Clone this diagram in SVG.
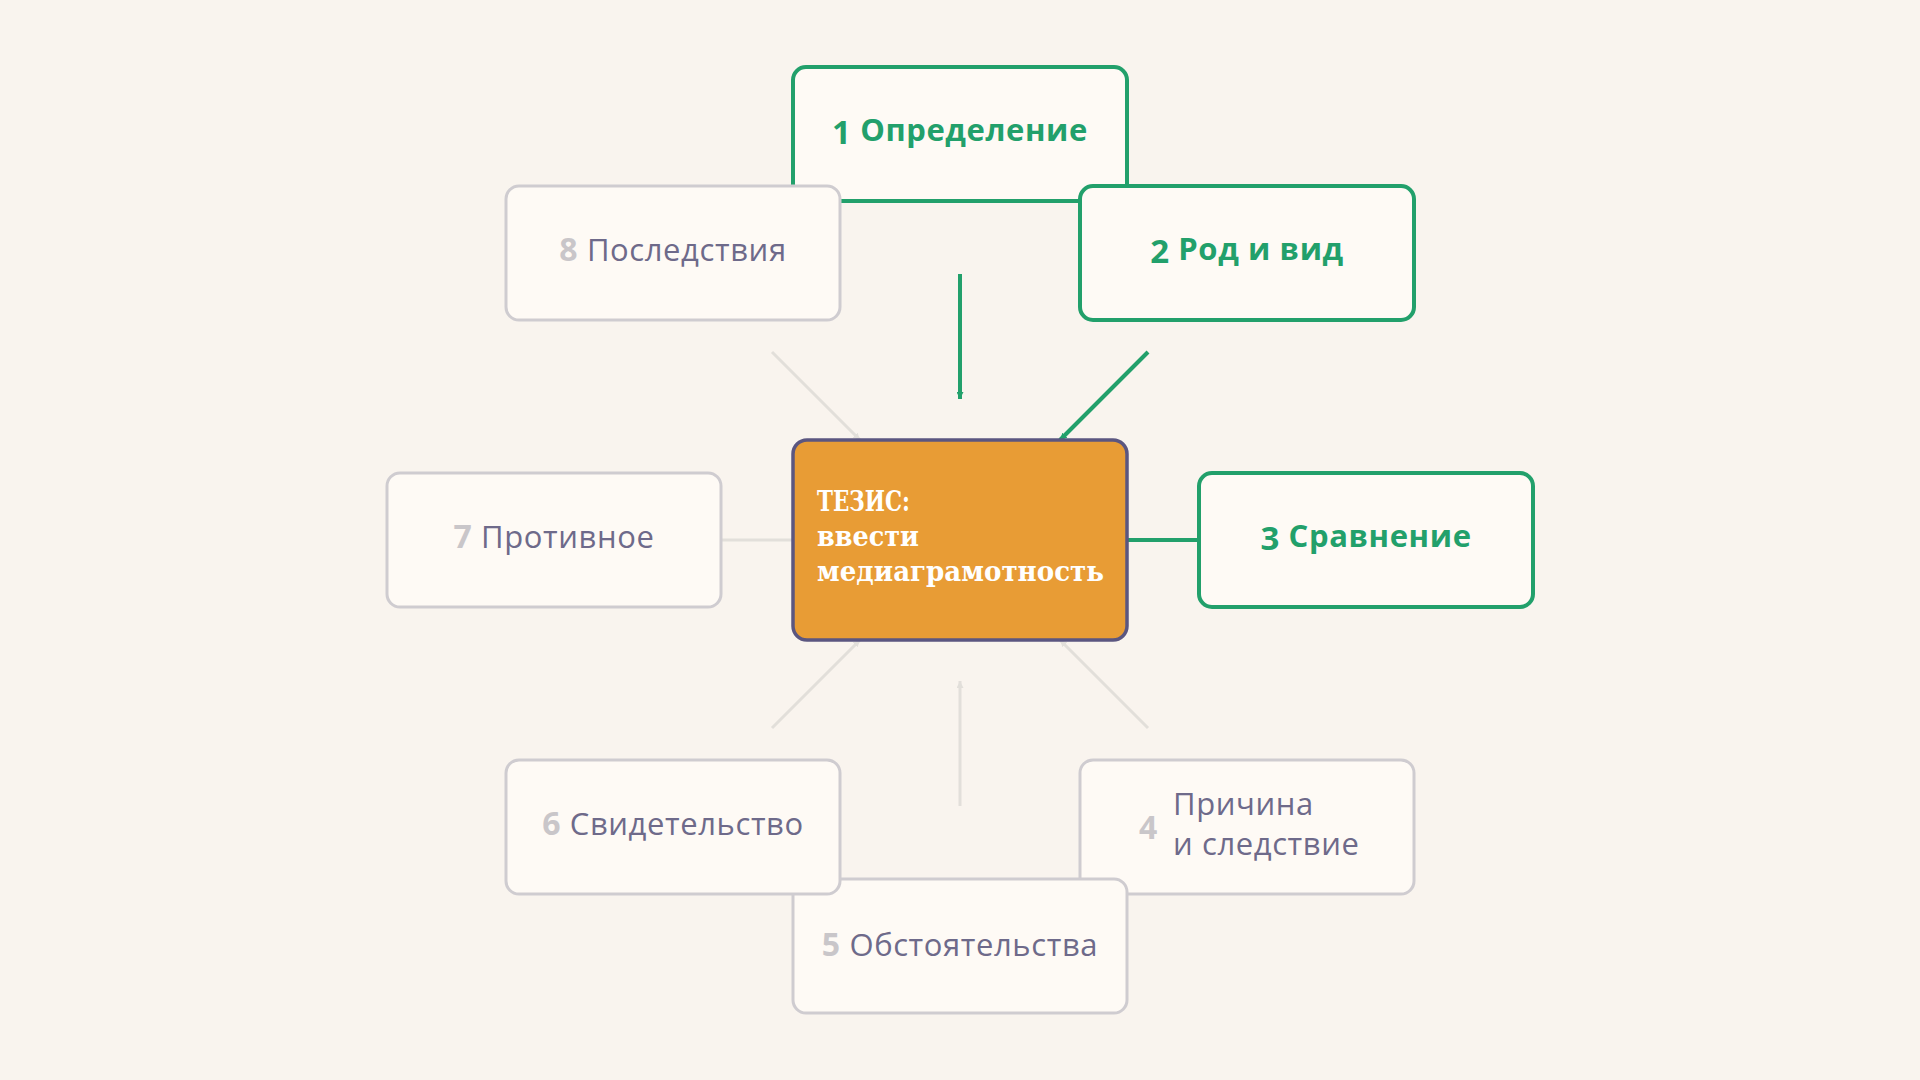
<svg xmlns="http://www.w3.org/2000/svg" width="1920" height="1080" viewBox="0 0 1920 1080">
<defs>
<marker id="arrG" viewBox="0 0 10 10" refX="10" refY="5" markerWidth="7" markerHeight="7" markerUnits="userSpaceOnUse" orient="auto"><path d="M0,0 L10,5 L0,10 z" fill="#22a06b"/></marker>
<marker id="arrL" viewBox="0 0 10 10" refX="10" refY="5" markerWidth="7" markerHeight="7" markerUnits="userSpaceOnUse" orient="auto"><path d="M0,0 L10,5 L0,10 z" fill="#e2dfda"/></marker>
<style>
.bg{fill:#f9f4ee}
.box{fill:#fefaf5;stroke-width:3}
.on{stroke:#22a06b;stroke-width:4}
.off{stroke:#cfccd0}
.center{fill:#e89c35;stroke:#5b5680;stroke-width:3.5}
.lbl{font-family:"Open Sans","Noto Sans","DejaVu Sans",sans-serif;font-size:31px;letter-spacing:0.6px}
.gl{fill:#22a06b;font-weight:700}
.gn{fill:#22a06b;font-weight:700;font-size:33px}
.pl{fill:#6e6a8a;font-weight:400}
.pn{fill:#c9c6c9;font-weight:700;font-size:32px}
.th{font-family:"DejaVu Serif","Liberation Serif",serif;font-weight:700;font-size:27px;fill:#ffffff}
.cg{stroke:#22a06b;stroke-width:4;fill:none}
.cl{stroke:#e2dfda;stroke-width:3;fill:none}
</style>
</defs>
<rect class="bg" x="0" y="0" width="1920" height="1080"/>
<g id="connectors">
<line class="cg" x1="960" y1="274" x2="960" y2="399" marker-end="url(#arrG)"/>
<line class="cg" x1="1148" y1="352" x2="1060" y2="440" marker-end="url(#arrG)"/>
<line class="cg" x1="1226" y1="540" x2="1102" y2="540" marker-end="url(#arrG)"/>
<line class="cl" x1="1148" y1="728" x2="1060" y2="640" marker-end="url(#arrL)"/>
<line class="cl" x1="960" y1="806" x2="960" y2="681" marker-end="url(#arrL)"/>
<line class="cl" x1="772" y1="728" x2="860" y2="640" marker-end="url(#arrL)"/>
<line class="cl" x1="694" y1="540" x2="818" y2="540" marker-end="url(#arrL)"/>
<line class="cl" x1="772" y1="352" x2="860" y2="440" marker-end="url(#arrL)"/>
</g>
<g id="thesis">
<rect class="center" x="793" y="440" width="334" height="200" rx="14"/>
<text class="th" x="817" y="511" textLength="93" lengthAdjust="spacingAndGlyphs">ТЕЗИС:</text>
<text class="th" x="817" y="546" textLength="102" lengthAdjust="spacingAndGlyphs">ввести</text>
<text class="th" x="817" y="581" textLength="287" lengthAdjust="spacingAndGlyphs">медиаграмотность</text>
</g>
<g id="node1">
<rect class="box on" x="793" y="67" width="334" height="134" rx="13"/>
<text class="lbl" x="960" y="141" text-anchor="middle"><tspan class="gn" dy="3">1</tspan><tspan class="gl" dy="-3"> Определение</tspan></text>
</g>
<g id="node2">
<rect class="box on" x="1080" y="186" width="334" height="134" rx="13"/>
<text class="lbl" x="1247" y="260" text-anchor="middle"><tspan class="gn" dy="3">2</tspan><tspan class="gl" dy="-3"> Род и вид</tspan></text>
</g>
<g id="node3">
<rect class="box on" x="1199" y="473" width="334" height="134" rx="13"/>
<text class="lbl" x="1366" y="547" text-anchor="middle"><tspan class="gn" dy="3">3</tspan><tspan class="gl" dy="-3"> Сравнение</tspan></text>
</g>
<g id="node4">
<rect class="box off" x="1080" y="760" width="334" height="134" rx="13"/>
<text class="lbl pn" x="1139" y="839">4</text>
<text class="lbl pl" x="1173" y="815">Причина</text>
<text class="lbl pl" x="1173" y="855">и следствие</text>
</g>
<g id="node5">
<rect class="box off" x="793" y="879" width="334" height="134" rx="13"/>
<text class="lbl" x="960" y="956" text-anchor="middle"><tspan class="pn">5</tspan><tspan class="pl"> Обстоятельства</tspan></text>
</g>
<g id="node6">
<rect class="box off" x="506" y="760" width="334" height="134" rx="13"/>
<text class="lbl" x="673" y="835" text-anchor="middle"><tspan class="pn">6</tspan><tspan class="pl"> Свидетельство</tspan></text>
</g>
<g id="node7">
<rect class="box off" x="387" y="473" width="334" height="134" rx="13"/>
<text class="lbl" x="554" y="548" text-anchor="middle"><tspan class="pn">7</tspan><tspan class="pl"> Противное</tspan></text>
</g>
<g id="node8">
<rect class="box off" x="506" y="186" width="334" height="134" rx="13"/>
<text class="lbl" x="673" y="261" text-anchor="middle"><tspan class="pn">8</tspan><tspan class="pl"> Последствия</tspan></text>
</g>
</svg>
